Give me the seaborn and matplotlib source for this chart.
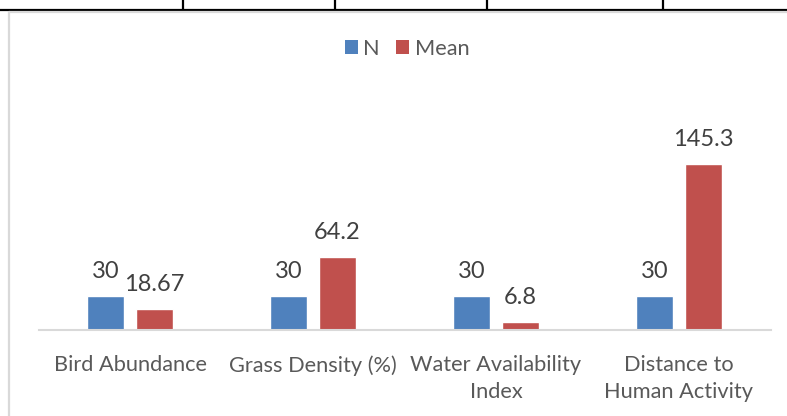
import matplotlib
matplotlib.use("Agg")
import matplotlib.pyplot as plt
from matplotlib.lines import Line2D
from matplotlib.patches import Patch
import seaborn as sns
import pandas as pd

categories = ["Bird Abundance", "Grass Density (%)", "Water Availability\nIndex",
              "Distance to\nHuman Activity"]
series = ["N", "Mean"]
n_values = [30, 30, 30, 30]
mean_values = [18.67, 64.2, 6.8, 145.3]
colors = ["#4F81BD", "#C0504D"]

df = pd.DataFrame({
    "category": categories * 2,
    "series": ["N"] * len(categories) + ["Mean"] * len(categories),
    "value": n_values + mean_values,
})

sns.set_theme(style="white")
plt.rcParams["font.family"] = ["Lato", "DejaVu Sans"]

W, H = 787, 416
fig = plt.figure(figsize=(W / 100, H / 100), dpi=100)
ax = fig.add_axes([38.5 / W, 1 - 330 / H, 732 / W, 183 / H])

sns.barplot(data=df, x="category", y="value", hue="series", hue_order=series,
            palette=colors, width=0.535, gap=0.245, saturation=1,
            legend=False, ax=ax, order=categories)

ax.set_ylim(0, 160)
ax.set_xlim(-0.5, len(categories) - 0.5)
ax.set_xlabel("")
ax.set_ylabel("")
ax.set_yticks([])
for side in ["top", "left", "right"]:
    ax.spines[side].set_visible(False)
ax.spines["bottom"].set_color("#d9d9d9")
ax.spines["bottom"].set_linewidth(1.5)
ax.tick_params(axis="x", length=0, pad=18, labelsize=15.7, labelcolor="#595959")
for lbl in ax.get_xticklabels():
    lbl.set_linespacing(1.45)

for cont in ax.containers:
    vals = [b.get_height() for b in cont]
    ax.bar_label(cont, labels=[f"{v:g}" for v in vals], padding=10,
                 fontsize=17, color="#404040")

handles = [Patch(facecolor=c, edgecolor="none") for c in colors]
fig.legend(handles, series, loc="center", bbox_to_anchor=(407 / W, 1 - 49 / H),
           ncol=2, frameon=False, fontsize=15.7, labelcolor="#595959",
           handlelength=0.6, handleheight=0.6, handletextpad=0.25,
           columnspacing=0.75)

# surrounding document frame
fig.add_artist(Line2D([0, 1], [1 - 10 / H] * 2, color="black", lw=1.6,
                      transform=fig.transFigure))
for x in [183, 335, 487, 663]:
    fig.add_artist(Line2D([x / W] * 2, [1 - 10 / H, 1], color="black", lw=1.6,
                          transform=fig.transFigure))
fig.add_artist(Line2D([8.5 / W] * 2, [0, 1 - 12 / H], color="#d9d9d9", lw=1.6,
                      transform=fig.transFigure))
fig.add_artist(Line2D([8.5 / W, 1], [1 - 12 / H] * 2, color="#d9d9d9", lw=1.6,
                      transform=fig.transFigure))

fig.savefig("out.png", dpi=100)
